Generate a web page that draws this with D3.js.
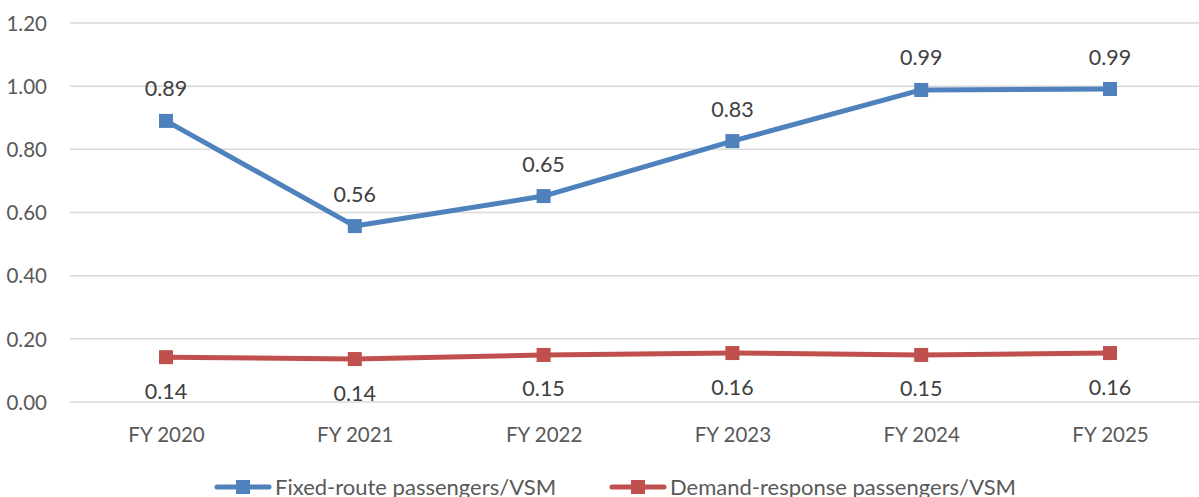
<!DOCTYPE html>
<html><head><meta charset="utf-8">
<script src="https://cdn.jsdelivr.net/npm/d3@7"></script>
<style>html,body{margin:0;padding:0;background:#fff;overflow:hidden}</style>
</head><body>
<svg id="c" width="1199" height="497"></svg>
<script>
const categories = ["FY 2020","FY 2021","FY 2022","FY 2023","FY 2024","FY 2025"];
const fixedRoute = [0.89, 0.557, 0.652, 0.826, 0.988, 0.991];
const fixedLabels = ["0.89","0.56","0.65","0.83","0.99","0.99"];
const demandResp = [0.142, 0.136, 0.149, 0.155, 0.149, 0.155];
const demandLabels = ["0.14","0.14","0.15","0.16","0.15","0.16"];
const yTicks = [0, 0.2, 0.4, 0.6, 0.8, 1.0, 1.2];
const seriesNames = ["Fixed-route passengers/VSM","Demand-response passengers/VSM"];

const font = "Lato, 'Open Sans', sans-serif";
const txt = "#595959";
const colors = ["#4F81BD","#C0504D"];
const svg = d3.select("#c");
const x = d3.scalePoint().domain(categories).range([166, 1110]);
const y = d3.scaleLinear().domain([0, 1.2]).range([402, 23]);

// grid
svg.append("g").selectAll("line").data(yTicks).join("line")
  .attr("x1", 70).attr("x2", 1205)
  .attr("y1", d => y(d)).attr("y2", d => y(d))
  .attr("stroke", "#d9d9d9").attr("stroke-width", 1.5);

// y axis labels
const yAxis = d3.axisLeft(y).tickValues(yTicks).tickFormat(d3.format(".2f")).tickSize(0).tickPadding(0);
const ya = svg.append("g").attr("transform", "translate(47,0)").call(yAxis);
ya.select(".domain").remove();
ya.selectAll("text").attr("font-family", font).attr("font-size", 20.5).attr("fill", txt).attr("dy", "0.35em");

// x axis labels
const xAxis = d3.axisBottom(x).tickSize(0).tickPadding(0);
const xa = svg.append("g").attr("transform", "translate(0,435)").call(xAxis);
xa.select(".domain").remove();
xa.selectAll("text").attr("font-family", font).attr("font-size", 20.5).attr("fill", txt).attr("dy", "0.35em");

const series = [
  {vals: fixedRoute, labels: fixedLabels, color: colors[0], off: -32},
  {vals: demandResp, labels: demandLabels, color: colors[1], off: 34}
];
const line = d3.line().x((d,i) => x(categories[i])).y(d => y(d));
series.forEach(s => {
  svg.append("path").datum(s.vals).attr("d", line).attr("fill", "none")
    .attr("stroke", s.color).attr("stroke-width", 5).attr("stroke-linejoin", "round").attr("stroke-linecap", "round");
  svg.append("g").selectAll("rect").data(s.vals).join("rect")
    .attr("x", (d,i) => x(categories[i]) - 7).attr("y", d => y(d) - 7)
    .attr("width", 14).attr("height", 14).attr("fill", s.color);
  svg.append("g").selectAll("text").data(s.vals).join("text")
    .attr("x", (d,i) => x(categories[i])).attr("y", d => y(d) + s.off)
    .attr("dy", "0.35em").attr("text-anchor", "middle")
    .attr("font-family", font).attr("font-size", 21.5).attr("fill", "#404040")
    .text((d,i) => s.labels[i]);
});

// legend
const legX = [215, 610];
seriesNames.forEach((n, i) => {
  const g = svg.append("g").attr("transform", `translate(${legX[i]},487)`);
  g.append("line").attr("x1", 2).attr("x2", 54).attr("y1", 0).attr("y2", 0)
    .attr("stroke", colors[i]).attr("stroke-width", 5).attr("stroke-linecap", "round");
  g.append("rect").attr("x", 21).attr("y", -7).attr("width", 14).attr("height", 14).attr("fill", colors[i]);
  g.append("text").attr("x", 60).attr("y", 0).attr("dy", "0.35em")
    .attr("font-family", font).attr("font-size", 22).attr("fill", txt).text(n);
});
</script>
</body></html>
